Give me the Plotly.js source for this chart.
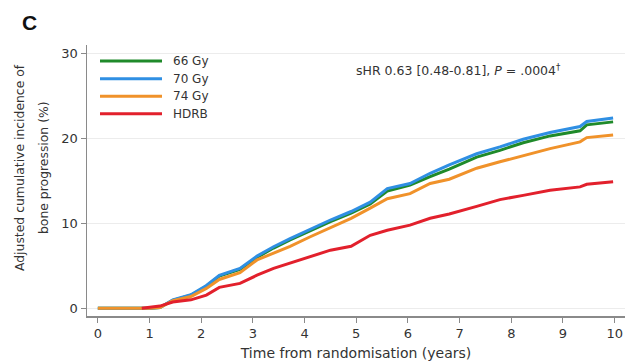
<!DOCTYPE html>
<html>
<head>
<meta charset="utf-8">
<script src="https://cdn.plot.ly/plotly-3.0.1.min.js"></script>
<style>html,body{margin:0;padding:0;background:#fff;}#chart{width:630px;height:363px;}</style>
</head>
<body>
<div id="chart"></div>
<script>
// Data
const years = [0, 0.85, 1.0, 1.2, 1.45, 1.8, 2.1, 2.35, 2.75, 3.08, 3.4, 3.72, 4.1, 4.5, 4.9, 5.27, 5.6, 6.04, 6.43, 6.8, 7.33, 7.78, 8.23, 8.75, 9.33, 9.46, 9.97];
const gy66 = [0, 0, 0, 0.1, 0.95, 1.55, 2.6, 3.8, 4.6, 6.0, 7.1, 8.05, 9.1, 10.2, 11.2, 12.3, 13.8, 14.5, 15.5, 16.4, 17.8, 18.6, 19.5, 20.3, 20.9, 21.6, 21.95];
const gy70 = [0, 0, 0, 0.1, 1.0, 1.6, 2.7, 3.9, 4.7, 6.15, 7.25, 8.2, 9.3, 10.4, 11.4, 12.5, 14.1, 14.7, 15.9, 16.9, 18.2, 19.0, 19.9, 20.7, 21.4, 22.0, 22.4];
const gy74 = [0, 0, 0, 0.1, 0.9, 1.4, 2.35, 3.4, 4.2, 5.7, 6.5, 7.3, 8.4, 9.5, 10.6, 11.8, 12.9, 13.5, 14.7, 15.2, 16.5, 17.25, 18.0, 18.8, 19.6, 20.1, 20.4];
const hdrb = [null, 0, 0.1, 0.27, 0.75, 1.0, 1.56, 2.47, 2.94, 3.9, 4.7, 5.3, 6.1, 6.85, 7.3, 8.6, 9.2, 9.8, 10.6, 11.1, 12.0, 12.8, 13.3, 13.9, 14.3, 14.6, 14.9];
const seriesNames = ['66 Gy', '70 Gy', '74 Gy', 'HDRB'];
const seriesColors = ['#1f8a2a', '#2f8fe3', '#f0922a', '#e2202c'];
const xTicks = [0,1,2,3,4,5,6,7,8,9,10];
const yTicks = [0,10,20,30];
const yTitleLines = ['Adjusted cumulative incidence of', 'bone progression (%)'];

const allValues = [gy66, gy70, gy74, hdrb];
const FONT = 'DejaVu Sans, Verdana, sans-serif';
const TXT = '#333333';

const traces = allValues.map((v, i) => ({
  x: years, y: v, type: 'scatter', mode: 'lines', name: seriesNames[i],
  line: {color: seriesColors[i], width: 3}, connectgaps: false, showlegend: false
}));

const M = {l: 87, r: 5, t: 45, b: 47};
const W = 630, H = 363;
const pw = W - M.l - M.r, ph = H - M.t - M.b;
const px = x => (x - M.l) / pw;
const py = y => (H - M.b - y) / ph;

const shapes = [];
const annotations = [];
const legendRows = [61, 78.7, 96.3, 113.7];
seriesNames.forEach((n, i) => {
  shapes.push({type: 'line', xref: 'paper', yref: 'paper',
    x0: px(100), x1: px(162), y0: py(legendRows[i]), y1: py(legendRows[i]),
    line: {color: seriesColors[i], width: 3}});
  annotations.push({xref: 'paper', yref: 'paper', x: px(171), y: py(legendRows[i]),
    xanchor: 'left', yanchor: 'middle', text: n, showarrow: false,
    font: {family: FONT, size: 12, color: TXT}});
});
annotations.push({xref: 'paper', yref: 'paper', x: px(458), y: py(70),
  xanchor: 'center', yanchor: 'middle', showarrow: false,
  text: 'sHR 0.63 [0.48-0.81], <i>P</i> = .0004<sup>†</sup>',
  font: {family: FONT, size: 12.5, color: TXT}});
annotations.push({xref: 'paper', yref: 'paper', x: px(20), y: py(23),
  xanchor: 'left', yanchor: 'middle', showarrow: false, text: '<b>C</b>',
  font: {family: 'Liberation Sans, Arial, sans-serif', size: 21, color: '#111'}});
[19, 43].forEach((xp, i) => {
  annotations.push({xref: 'paper', yref: 'paper', x: px(xp), y: py(168),
    xanchor: 'center', yanchor: 'middle', showarrow: false, textangle: -90,
    text: yTitleLines[i], font: {family: FONT, size: 12.4, color: TXT}});
});

const layout = {
  width: W, height: H, margin: M,
  paper_bgcolor: '#ffffff', plot_bgcolor: '#ffffff',
  showlegend: false,
  xaxis: {
    range: [-0.21, 10.2], tickvals: xTicks, ticktext: xTicks.map(String),
    ticks: 'outside', ticklen: 5, tickcolor: '#8a8a8a', tickwidth: 1,
    showline: true, linecolor: '#8a8a8a', linewidth: 1.5, showgrid: false, zeroline: false,
    tickfont: {family: FONT, size: 13, color: TXT},
    title: {text: 'Time from randomisation (years)', font: {family: FONT, size: 14, color: TXT}, standoff: 8}
  },
  yaxis: {
    range: [-0.9, 31], tickvals: yTicks, ticktext: yTicks.map(String),
    ticks: 'outside', ticklen: 5, tickcolor: '#8a8a8a', tickwidth: 1,
    showline: true, linecolor: '#8a8a8a', linewidth: 1.5,
    showgrid: true, gridcolor: '#ececec', gridwidth: 1, zeroline: false,
    tickfont: {family: FONT, size: 13, color: TXT}
  },
  shapes: shapes, annotations: annotations
};

Plotly.newPlot('chart', traces, layout, {displayModeBar: false, staticPlot: true});
</script>
</body>
</html>
